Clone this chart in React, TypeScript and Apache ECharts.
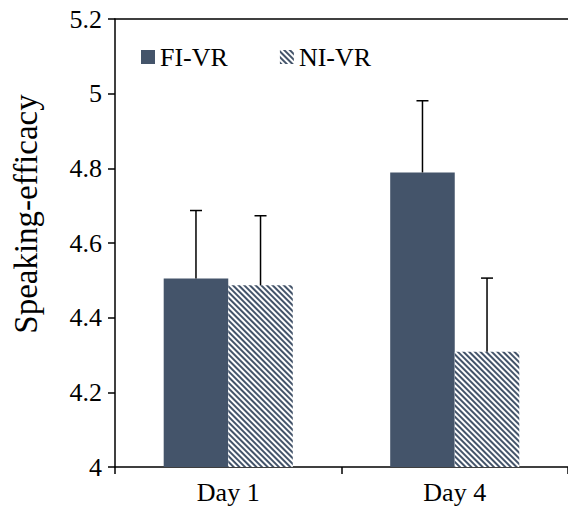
import React, { useEffect, useRef } from "react";
import * as echarts from "echarts";

const categories = ["Day 1", "Day 4"];
const seriesNames = ["FI-VR", "NI-VR"];
const fiMeans = [4.505, 4.789];
const fiUpper = [4.687, 4.981];
const niMeans = [4.487, 4.309];
const niUpper = [4.673, 4.506];
const yTicks = { min: 4, max: 5.2, interval: 0.2 };
const yTitle = "Speaking-efficacy";

const FONT = "Liberation Serif";
const DARK = "#44546A";
const GAP = 0.43;

function errorSeries(name: string, means: number[], uppers: number[], sign: number) {
  return {
    type: "custom",
    name: name + "-err",
    z: 5,
    silent: true,
    data: means.map((m, i) => [i, m, uppers[i]]),
    renderItem: (params: any, api: any) => {
      const idx = api.value(0);
      const top = api.value(1);
      const up = api.value(2);
      const band = api.size([1, 0])[0];
      const barW = (band * (1 - GAP)) / 2;
      const p0 = api.coord([idx, top]);
      const p1 = api.coord([idx, up]);
      const cx = p0[0] + (sign * barW) / 2;
      const st = { stroke: "#000", lineWidth: 1.5 };
      return {
        type: "group",
        children: [
          { type: "line", shape: { x1: cx, y1: p0[1], x2: cx, y2: p1[1] }, style: st },
          { type: "line", shape: { x1: cx - 6, y1: p1[1], x2: cx + 6, y2: p1[1] }, style: st },
        ],
      };
    },
  };
}

export default function App() {
  const ref = useRef<HTMLDivElement>(null);
  useEffect(() => {
    if (!ref.current) return;
    const chart = echarts.init(ref.current, null, { renderer: "svg" });
    const axisLine = { show: true, lineStyle: { color: "#000", width: 1.5 } };
    chart.setOption({
      animation: false,
      textStyle: { fontFamily: FONT },
      grid: { left: 115, top: 19, width: 458, height: 448, containLabel: false },
      legend: {
        left: 141,
        top: 44,
        padding: 0,
        itemWidth: 14,
        itemHeight: 14,
        itemGap: 52,
        icon: "rect",
        data: seriesNames,
        textStyle: { fontFamily: FONT, fontSize: 26, color: "#000", padding: [0, 0, 0, 0] },
      },
      graphic: [
        {
          type: "text",
          x: 26,
          y: 214,
          rotation: Math.PI / 2,
          style: {
            text: yTitle,
            fontFamily: FONT,
            fontSize: 33,
            fill: "#000",
            align: "center",
            verticalAlign: "middle",
          },
        },
      ],
      xAxis: [
        {
          type: "category",
          data: categories,
          position: "bottom",
          axisLine,
          axisTick: { show: true, inside: false, length: 7, lineStyle: { color: "#000", width: 1.5 } },
          axisLabel: { color: "#000", fontSize: 26, fontFamily: FONT, margin: 12 },
        },
        {
          type: "category",
          data: categories,
          position: "top",
          axisLine,
          axisTick: { show: false },
          axisLabel: { show: false },
        },
      ],
      yAxis: {
        type: "value",
        min: yTicks.min,
        max: yTicks.max,
        interval: yTicks.interval,
        axisLine,
        axisTick: { show: true, inside: false, length: 7, lineStyle: { color: "#000", width: 1.5 } },
        axisLabel: { color: "#000", fontSize: 26, fontFamily: FONT, margin: 13 },
        splitLine: { show: false },
      },
      series: [
        {
          type: "bar",
          name: seriesNames[0],
          data: fiMeans,
          barGap: "0%",
          barCategoryGap: GAP * 100 + "%",
          itemStyle: { color: DARK },
        },
        {
          type: "bar",
          name: seriesNames[1],
          data: niMeans,
          barGap: "0%",
          barCategoryGap: GAP * 100 + "%",
          itemStyle: {
            color: "#ffffff",
            decal: {
              symbol: "rect",
              symbolSize: 1,
              color: DARK,
              dashArrayX: [1, 0],
              dashArrayY: [1.7, 1.6],
              rotation: Math.PI / 4,
            },
          },
        },
        errorSeries(seriesNames[0], fiMeans, fiUpper, -1),
        errorSeries(seriesNames[1], niMeans, niUpper, 1),
      ],
    });
    return () => chart.dispose();
  }, []);
  return (
    <div
      ref={ref}
      style={{ position: "fixed", left: 0, top: 0, width: 568, height: 508, background: "#fff" }}
    />
  );
}
